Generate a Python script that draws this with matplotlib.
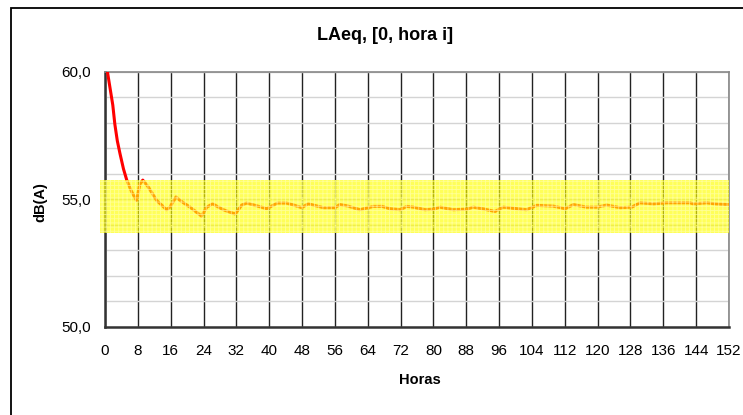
import matplotlib.pyplot as plt
import matplotlib.patches as mpatches
import numpy as np

plt.rcParams['font.family'] = ['Liberation Sans', 'DejaVu Sans']

# hourly LAeq
horas = [0, 0.6, 1.2, 1.9, 2.4, 3.0, 3.65, 4.5, 5.3, 6.5, 7.7, 8.5, 9.2, 10.5, 12.6,
         15, 15.8, 17.3, 18.3, 20.7, 23.5, 24.8, 26.2, 28.8, 31.7, 33.3, 34.5, 37,
         39.4, 42, 44.2, 46, 47.9, 49.5, 51.5, 53.2, 56, 57.2, 59, 62.1, 65.4, 67.5,
         69.4, 71.9, 73.5, 75.1, 78, 80, 81.6, 84.8, 88.1, 89.7, 92.2, 95, 97, 100.3,
         102.7, 105.2, 109.2, 112.1, 114.1, 117.3, 119.8, 122.2, 125.5, 128.3, 130.3,
         133.6, 136.8, 142.5, 143.3, 146.6, 148.6, 152]
laeq = [60.3, 60.0, 59.4, 58.7, 57.95, 57.3, 56.8, 56.2, 55.76, 55.3, 54.96, 55.6,
        55.76, 55.5, 54.96, 54.6, 54.7, 55.1, 54.96, 54.7, 54.35, 54.7, 54.83, 54.6,
        54.43, 54.78, 54.86, 54.75, 54.64, 54.86, 54.86, 54.78, 54.68, 54.83, 54.75,
        54.68, 54.68, 54.8, 54.75, 54.6, 54.73, 54.73, 54.64, 54.6, 54.73, 54.7, 54.6,
        54.62, 54.7, 54.6, 54.62, 54.7, 54.63, 54.53, 54.7, 54.64, 54.6, 54.77, 54.74,
        54.64, 54.8, 54.7, 54.7, 54.78, 54.68, 54.7, 54.87, 54.83, 54.87, 54.87, 54.83,
        54.87, 54.83, 54.8]

banda = (53.67, 55.78)
xticks_h = list(range(0, 153, 8))
yticks_db = [50, 55, 60]
ytick_lbl = ['50,0', '55,0', '60,0']

fig = plt.figure(figsize=(7.43, 4.15), dpi=100)
ax = fig.add_axes([105 / 743, 1 - 327 / 415, 624 / 743, 255 / 415])

# outer chart frame
fig.patches.append(mpatches.Rectangle((11 / 743, -0.1), 1.1, 1 - 8 / 415 + 0.1,
                                      transform=fig.transFigure, fill=False,
                                      edgecolor='black', lw=1.3, clip_on=False))

ax.plot(horas, laeq, color='#ff0000', lw=2.2, zorder=3)

# tolerance band drawn over the line
ax.add_patch(mpatches.Rectangle((-1.2, banda[0]), 153.2, banda[1] - banda[0],
                                facecolor='#ffff00', edgecolor='none', alpha=0.65,
                                zorder=4, clip_on=False))
plt.rcParams['hatch.linewidth'] = 0.6
ax.add_patch(mpatches.Rectangle((-1.2, banda[0]), 153.2, banda[1] - banda[0],
                                facecolor='none', edgecolor='#ffffb0', hatch='++++',
                                lw=0, alpha=0.7, zorder=4, clip_on=False))

ax.set_xlim(0, 152)
ax.set_ylim(50, 60)
ax.set_xticks(xticks_h)
ax.set_yticks(yticks_db)
ax.set_yticklabels(ytick_lbl)
ax.set_yticks(np.arange(50, 61, 1), minor=True)
ax.tick_params(axis='both', which='both', length=0, labelsize=11)
ax.tick_params(axis='x', pad=12)
ax.tick_params(axis='y', pad=10)

ax.grid(True, axis='y', which='both', color='#d4d4d4', lw=1.0, zorder=0)
ax.grid(True, axis='x', which='major', color='#222222', lw=1.0, zorder=1)

for s in ['left', 'bottom']:
    ax.spines[s].set_color('#333333')
    ax.spines[s].set_linewidth(1.8)
for s in ['top', 'right']:
    ax.spines[s].set_color('#888888')
    ax.spines[s].set_linewidth(1.2)

fig.text(385 / 743, 1 - 35 / 415, 'LAeq, [0, hora i]', ha='center', va='center',
         fontsize=13, fontweight='bold')
fig.text(420 / 743, 1 - 380 / 415, 'Horas', ha='center', va='center',
         fontsize=10.5, fontweight='bold')
fig.text(40 / 743, 1 - 202 / 415, 'dB(A)', ha='center', va='center',
         fontsize=10.5, fontweight='bold', rotation=90)

fig.savefig('out.png', dpi=100)
